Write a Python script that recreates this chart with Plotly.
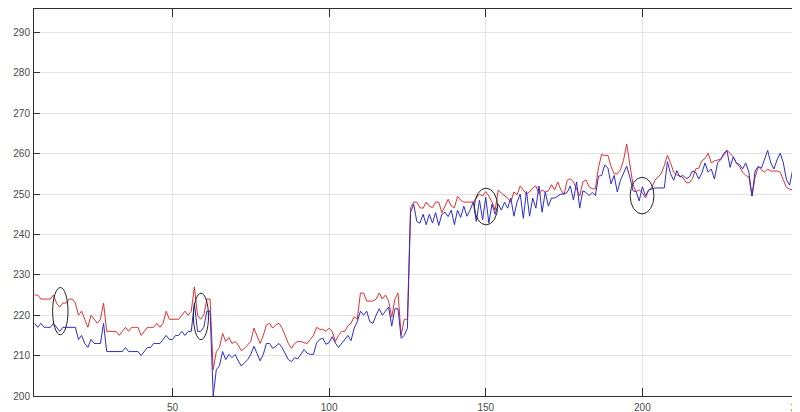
import plotly.graph_objects as go

x_vals = list(range(6, 251))

red_vals = [
    225, 225, 224, 224, 224, 224, 225, 223, 222, 223, 223, 224, 224, 223, 220, 221, 219, 217, 220, 219,
    218, 219, 223, 216, 216, 216, 216, 215, 216, 217, 216, 217, 217, 217, 215, 216, 217, 217, 217, 218,
    217, 218, 221, 219, 219, 219, 219, 220, 221, 220, 221, 227, 220, 219, 220, 224, 224, 206.5, 211, 212,
    215.5, 213.5, 214.5, 213, 213.5, 212.6, 211.2, 211.8, 212.6, 213.5, 216.8, 214.7, 213, 215, 217.6, 218, 216.8, 217.6, 218, 216.8,
    215, 213, 211.8, 213, 213.5, 213.5, 213.2, 213, 214, 215, 217, 216.5, 216.5, 216, 216.8, 216, 213.5, 215, 216, 216,
    217.4, 218, 219.6, 219, 225.5, 225.5, 223.5, 223.5, 223.5, 224, 225.5, 224, 225, 223.5, 219.5, 224, 225.5, 215, 219, 219,
    246.6, 248, 248, 246.6, 246.5, 248, 247, 246.6, 248, 248, 245.4, 247, 248.7, 247, 246.6, 249.4, 248.5, 248, 248, 248,
    248, 249, 250, 249.5, 250.6, 249.5, 248, 246, 251, 250.2, 249.5, 249, 248, 250.5, 249.8, 252, 251, 250, 250.5, 251.5,
    252, 250, 251, 250.5, 250.8, 252.3, 251, 253, 251, 249.9, 253.4, 253.8, 253, 251, 249.5, 253, 253.5, 251.8, 251.3, 251.3,
    256.6, 259.8, 259.5, 259.6, 256.8, 255, 255, 256, 258.4, 262.4, 256.8, 252.3, 250.6, 251, 250.3, 249, 251, 251.5, 253.4, 254.2,
    255, 257, 259.6, 257.7, 255.4, 254.7, 254.5, 254, 252.8, 252.8, 253.8, 256.2, 256.4, 258.2, 258.8, 260.1, 257.7, 258.2, 258.4, 258.6,
    259.6, 260.8, 260.1, 259.2, 257.7, 256.8, 255.4, 254.6, 254.2, 249.5, 254.2, 256.8, 256, 255.4, 256.2, 255.7, 255.7, 255.7, 255.4, 253.3,
    251.6, 251.2, 251, 252, 254.2
]

blue_vals = [
    218, 217, 218, 217, 217, 217, 218, 217, 216, 217, 217, 217, 217, 217, 214, 215, 213, 212, 214, 213,
    213, 213, 218, 211, 211, 211, 211, 211, 211, 212, 211, 211, 211, 211, 210, 211, 212, 212, 213, 213,
    213, 214, 215, 214, 214, 215, 215, 216, 215, 216, 216, 223, 216, 216, 217, 221, 221, 200, 206.5, 207.5,
    211, 209, 210.3, 209.5, 210.3, 208.7, 207.4, 208.2, 209, 210.3, 212.3, 210.5, 208.7, 210.3, 213, 213, 211.8, 212.3, 213, 212,
    210.6, 209, 208.5, 209.5, 209.2, 210.3, 211.5, 210.6, 210.3, 210.3, 213.1, 214, 214.3, 212.8, 213.2, 214.7, 213.1, 212, 213, 214.3,
    215, 213.7, 216.8, 218.4, 221, 220, 221, 218.4, 218, 220, 221.6, 220, 221, 222, 217.3, 221.6, 221.6, 214.3, 215, 216.8,
    245.5, 247.5, 243.2, 242.8, 245, 242.4, 245, 242.8, 245.4, 242.2, 245, 245.5, 244.4, 246, 242.4, 246, 244.2, 247, 244.5, 246,
    248, 243.2, 248.5, 243.6, 249.2, 242.8, 247.5, 245, 247.5, 246, 248, 246.5, 249, 244.5, 248, 250, 244, 250.6, 244.5, 249,
    246.5, 252, 245.5, 250.5, 247, 249, 249, 249.5, 250, 250, 250.4, 252, 248.5, 253, 246.5, 250.8, 250.4, 249.6, 250.4, 249.6,
    254.4, 254.6, 257.2, 256.4, 252.5, 254.6, 250.5, 253.4, 255, 256.9, 254.2, 250.8, 250.6, 248.3, 251.8, 249.5, 251, 251.3, 251.5, 251.5,
    251.5, 251.5, 258, 255, 253.4, 255.8, 254.2, 254.6, 253.8, 254.2, 255.7, 255.4, 253.7, 255.2, 257.7, 255.4, 256.2, 253.7, 257.7, 258.5,
    260.1, 260.8, 256.6, 259.2, 257.7, 257.3, 256.2, 257.7, 255.4, 249.5, 255.7, 256.8, 256.4, 258.5, 260.8, 257.7, 256.2, 258.5, 260.1, 257.7,
    253.5, 252.2, 256, 256.7, 256.7
]

# marked regions (ellipses): centre x, centre y, half width, half height
ell_cx = [14.2, 59.1, 150.1, 199.9]
ell_cy = [221.0, 219.7, 246.9, 249.6]
ell_rx = [2.45, 2.4, 3.7, 3.8]
ell_ry = [5.85, 5.75, 4.55, 4.55]

x_ticks = [50, 100, 150, 200, 250]
y_ticks = list(range(200, 300, 10))

fig = go.Figure()
fig.add_trace(go.Scatter(x=x_vals, y=red_vals, mode="lines",
                         line=dict(color="rgb(226,48,50)", width=1), showlegend=False))
fig.add_trace(go.Scatter(x=x_vals, y=blue_vals, mode="lines",
                         line=dict(color="rgb(44,44,210)", width=1), showlegend=False))

for cx, cy, rx, ry in zip(ell_cx, ell_cy, ell_rx, ell_ry):
    fig.add_shape(type="circle", xref="x", yref="y",
                  x0=cx - rx, x1=cx + rx, y0=cy - ry, y1=cy + ry,
                  line=dict(color="#222222", width=1))

axis_common = dict(
    showline=True, linecolor="#303030", linewidth=1, mirror="ticks",
    ticks="inside", tickcolor="#303030", showgrid=True, gridcolor="#e3e3e3",
    gridwidth=1, zeroline=False, automargin=False, ticklabeloverflow="allow",
    tickfont=dict(family="Liberation Sans, Arial, sans-serif", size=10, color="#4a4a4a"),
)

# the page body adds an 8px offset, so the figure is sized to fit the visible window
fig.update_layout(
    template="none",
    width=794, height=406,
    margin=dict(l=26, r=3, t=1, b=18, pad=0),
    paper_bgcolor="white", plot_bgcolor="white",
    xaxis=dict(range=[5.8, 250], tickvals=x_ticks, ticklen=8, ticklabelstandoff=2, **axis_common),
    yaxis=dict(range=[200, 295.8], tickvals=y_ticks, ticklen=6, ticklabelstandoff=1, **axis_common),
)

fig.write_html("out.html")
